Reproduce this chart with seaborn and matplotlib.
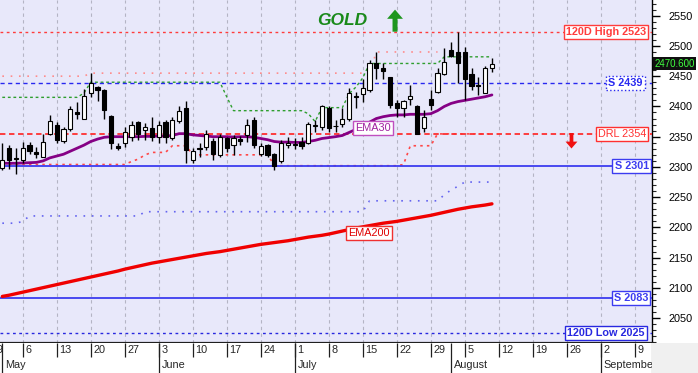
import numpy as np
import pandas as pd
import matplotlib
matplotlib.use("Agg")
import matplotlib.pyplot as plt
import matplotlib.transforms as mtrans
from matplotlib.patches import Rectangle
from matplotlib.ticker import MultipleLocator
import seaborn as sns

# daily candles, first one is Wed 1 May 2024, last Fri 9 Aug 2024
first_day = "2024-05-01"
opens = [2299, 2331, 2314, 2312, 2336, 2325, 2317, 2354, 2370, 2343,
         2363, 2391, 2380, 2422, 2432, 2427, 2385, 2335, 2339, 2349,
         2374, 2361, 2365, 2349, 2374, 2347, 2376, 2397, 2311, 2332,
         2333, 2343, 2320, 2347, 2336, 2346, 2353, 2377, 2322, 2336,
         2321, 2309, 2336, 2338, 2342, 2340, 2367, 2366, 2398, 2367,
         2371, 2379, 2418, 2420, 2427, 2472, 2464, 2449, 2405, 2398,
         2412, 2401, 2364, 2412, 2424, 2453, 2494, 2490, 2490, 2453,
         2435, 2423, 2464]
highs = [2339, 2336, 2331, 2342, 2341, 2333, 2355, 2386, 2375, 2366,
         2400, 2408, 2428, 2455, 2434, 2428, 2386, 2339, 2366, 2376,
         2376, 2372, 2382, 2376, 2377, 2382, 2401, 2409, 2332, 2339,
         2361, 2347, 2355, 2350, 2353, 2351, 2380, 2383, 2339, 2338,
         2323, 2344, 2350, 2347, 2350, 2375, 2377, 2402, 2401, 2377,
         2397, 2431, 2424, 2446, 2477, 2490, 2471, 2449, 2411, 2411,
         2435, 2402, 2394, 2427, 2463, 2496, 2507, 2523, 2499, 2463,
         2449, 2466, 2480]
lows = [2295, 2297, 2288, 2306, 2322, 2314, 2316, 2353, 2339, 2340,
        2360, 2379, 2379, 2416, 2409, 2379, 2330, 2328, 2333, 2343,
        2344, 2344, 2343, 2339, 2339, 2345, 2373, 2307, 2307, 2317,
        2328, 2311, 2317, 2325, 2320, 2336, 2342, 2331, 2318, 2317,
        2295, 2307, 2331, 2329, 2329, 2338, 2358, 2361, 2358, 2358,
        2366, 2376, 2398, 2408, 2424, 2446, 2446, 2398, 2383, 2383,
        2402, 2354, 2358, 2394, 2422, 2452, 2482, 2438, 2411, 2427,
        2419, 2422, 2457]
closes = [2311, 2311, 2313, 2332, 2326, 2322, 2341, 2376, 2344, 2362,
          2396, 2387, 2418, 2438, 2427, 2394, 2339, 2331, 2357, 2369,
          2354, 2366, 2349, 2369, 2349, 2377, 2392, 2328, 2326, 2329,
          2355, 2321, 2349, 2331, 2347, 2343, 2370, 2336, 2334, 2320,
          2301, 2339, 2340, 2336, 2334, 2371, 2369, 2400, 2365, 2368,
          2380, 2423, 2416, 2430, 2471, 2463, 2458, 2402, 2397, 2409,
          2417, 2355, 2383, 2402, 2455, 2474, 2483, 2471, 2446, 2434,
          2433, 2464, 2470.6]

ema30 = [2306, 2306, 2306, 2306.5, 2307, 2307.5, 2310, 2315, 2318, 2321,
         2326, 2331, 2336, 2342, 2346, 2349, 2350, 2350, 2350, 2350,
         2350, 2350.5, 2350.5, 2351, 2351, 2352, 2355, 2355, 2353, 2352,
         2351, 2350, 2350, 2350, 2349.5, 2350, 2350, 2349, 2347, 2345,
         2342, 2341, 2341, 2340.5, 2340.5, 2342, 2344, 2347, 2348.5, 2350,
         2352, 2357, 2362, 2367, 2374, 2380, 2383, 2385, 2386, 2386,
         2387, 2387, 2387, 2388, 2393, 2400, 2405, 2408, 2410, 2412,
         2414, 2416, 2419]
ema200 = [2086, 2088, 2090.5, 2093, 2095.5, 2098, 2100.5, 2103, 2105.5, 2108,
          2110.5, 2113, 2115.5, 2118, 2120.5, 2123, 2125.5, 2128, 2131, 2133.5,
          2136, 2138.5, 2141, 2143, 2145, 2147, 2149, 2151, 2153, 2155,
          2157, 2158.5, 2160, 2162, 2164, 2166, 2168, 2170, 2172, 2173.5,
          2175, 2176.5, 2178, 2180, 2182, 2184, 2185.5, 2187, 2189, 2191.5,
          2194, 2196.5, 2199, 2201, 2203, 2205, 2207, 2208.5, 2210, 2212,
          2214, 2216, 2218, 2220, 2222.5, 2225, 2227.5, 2230, 2232, 2234,
          2235.5, 2237, 2239]

# stepped trailing levels
green_stop = [2415] * 12 + [2422] + [2440] * 20 + [2416] + [2393] * 11 + \
             [2388, 2375] + [2398] * 4 + [2421, 2432, 2447] + [2471] * 11 + [2482] * 8
pink_high = [2450] * 13 + [2455] * 42 + [2490] * 10
red_stop = [2304] * 19 + [2309, 2313, 2320] + [2324] * 3 + [2335] * 3 + [2320] * 12 + \
           [2303] + [2302] * 18 + [2304] + [2335] * 4 + [2354.6] * 9
blue_low = [2207] * 3 + [2210] + [2219] * 17 + [2226] * 33 + [2244] * 11 + \
           [2254, 2262, 2268] + [2275] * 5

level_names = ["120D High 2523", "S 2439", "DRL 2354", "S 2301", "S 2083", "120D Low 2025"]
level_values = [2523, 2439, 2354, 2301, 2083, 2025]
last_price = 2470.6
month_names = ["May", "June", "July", "August", "September"]

sns.set_style("white")
plt.rcParams['font.family'] = ['Liberation Sans', 'DejaVu Sans']

calendar = pd.bdate_range("2024-04-29", "2024-09-13")
days = pd.bdate_range(first_day, periods=len(closes))
x = calendar.get_indexer(days)

o = np.array(opens, float)
h = np.array(highs, float)
l = np.array(lows, float)
c = np.array(closes, float)

fig = plt.figure(figsize=(6.98, 3.73), dpi=100)
W, H = 698, 373
ax = fig.add_axes([0, 1 - 342.7 / H, 652 / W, 342.7 / H])
axd = fig.add_axes([0, 0, 652 / W, 30.3 / H], sharex=ax)
ax.set_facecolor('#E8E8FA')
ax.set_xlim(1.66, 97.54)
ax.set_ylim(2009.5, 2575.9)

# weekly grid
mondays = [i for i, d in enumerate(calendar) if d.weekday() == 0]
for m in mondays:
    ax.axvline(m, color='#B4B4C4', lw=0.8, ls=(0, (3, 3)), zorder=1)

# horizontal levels
lvl_style = {
    "120D High 2523": dict(color='#FF3C3C', ls=(0, (2, 2.5)), lw=1.0, bold=True, xr=0.991, box_ls='-'),
    "S 2439": dict(color='#2828F0', ls=(0, (3, 2.5)), lw=1.0, bold=True, xr=0.986, box_ls=':'),
    "DRL 2354": dict(color='#FF3030', ls=(0, (3, 2)), lw=1.3, bold=False, xr=0.991, box_ls='-'),
    "S 2301": dict(color='#3C3CF0', ls='-', lw=1.3, bold=True, xr=0.995, box_ls='-'),
    "S 2083": dict(color='#3C3CF0', ls='-', lw=1.3, bold=True, xr=0.994, box_ls='-'),
    "120D Low 2025": dict(color='#2828E0', ls=(0, (2, 2.5)), lw=1.0, bold=True, xr=0.989, box_ls='-'),
}
trans = mtrans.blended_transform_factory(ax.transAxes, ax.transData)
for name, val in zip(level_names, level_values):
    st = lvl_style[name]
    ax.axhline(val, color=st['color'], ls=st['ls'], lw=st['lw'], zorder=3)
    ax.text(st['xr'], val, name, transform=trans, ha='right', va='center',
            fontsize=7.8, color=st['color'],
            fontweight='bold' if st['bold'] else 'normal', zorder=9,
            bbox=dict(boxstyle='square,pad=0.2', fc='white', ec=st['color'],
                      lw=1.0, ls=st['box_ls']))

# stepped indicator lines
ax.plot(x[:len(pink_high)], pink_high, color='#FF8C8C', lw=1.2, ls=(0, (1, 4)), zorder=2)
ax.plot(x, green_stop, color='#2E9E2E', lw=1.0, ls=(0, (2, 2)), zorder=2)
ax.plot(x, red_stop, color='#FF4848', lw=1.2, ls=(0, (1.5, 2.5)), zorder=2)
ax.plot(x, blue_low, color='#6464F0', lw=1.2, ls=(0, (1, 4)), zorder=2)

# moving averages
sns.lineplot(x=x, y=ema200, ax=ax, color='#F00000', lw=2.4, zorder=4)
sns.lineplot(x=x, y=ema30, ax=ax, color='#850085', lw=2.0, zorder=4)
ax.text(56.5, 2364.3, "EMA30", fontsize=7.8, color='#A020A0', ha='center', va='center', zorder=9,
        bbox=dict(boxstyle='square,pad=0.2', fc='white', ec='#C050C0', lw=1.0))
ax.text(55.95, 2190.8, "EMA200", fontsize=7.8, color='#E00000', ha='center', va='center', zorder=9,
        bbox=dict(boxstyle='square,pad=0.2', fc='white', ec='#F03030', lw=1.0))

# candles
up = c >= o
bottoms = np.minimum(o, c)
heights = np.maximum(np.abs(c - o), 0.6)
ax.vlines(x, l, h, color='black', lw=1.0, zorder=5)
ax.bar(x, heights, bottom=bottoms, width=0.62, color=np.where(up, 'white', 'black'),
       edgecolor='black', linewidth=0.8, zorder=6)

# title and arrows
ax.text(51.96, 2541.5, "GOLD", fontsize=12.5, fontweight='bold', fontstyle='italic',
        color='#1A8A1A', ha='center', va='center', zorder=9)
ax.annotate('', xy=(59.75, 2560), xytext=(59.75, 2523.5),
            arrowprops=dict(arrowstyle='simple,head_length=0.55,head_width=0.95,tail_width=0.3',
                            fc='#1E961E', ec='none', mutation_scale=12, shrinkA=0, shrinkB=0),
            zorder=9)
ax.annotate('', xy=(85.7, 2330.5), xytext=(85.7, 2356),
            arrowprops=dict(arrowstyle='simple,head_length=0.55,head_width=0.95,tail_width=0.3',
                            fc='#F01010', ec='none', mutation_scale=9, shrinkA=0, shrinkB=0),
            zorder=9)

# right price axis
for s in ['left', 'top']:
    ax.spines[s].set_visible(False)
ax.spines['right'].set_color('black')
ax.spines['right'].set_linewidth(1.0)
ax.spines['bottom'].set_color('#202020')
ax.spines['bottom'].set_linewidth(1.6)
ax.yaxis.tick_right()
ax.set_yticks(np.arange(2050, 2551, 50))
ax.yaxis.set_minor_locator(MultipleLocator(10))
ax.tick_params(axis='y', which='major', right=True, length=6, width=1, pad=6,
               labelsize=7.8, colors='black')
ax.tick_params(axis='y', which='minor', right=True, length=3, width=0.8)
ax.tick_params(axis='x', bottom=False, labelbottom=False)
ax.text(1.004, last_price, f"{last_price:.3f}", transform=trans, ha='left', va='center',
        fontsize=7, color='#40FF40', zorder=10,
        bbox=dict(boxstyle='square,pad=0.15', fc='#101010', ec='none'), clip_on=False)

# date strip
axd.set_facecolor('white')
axd.set_ylim(0, 1)
for s in ['left', 'top', 'bottom']:
    axd.spines[s].set_visible(False)
axd.spines['right'].set_color('black')
axd.tick_params(left=False, bottom=False, labelleft=False, labelbottom=False)
for m in mondays:
    axd.vlines(m, 0.53, 1, color='#202020', lw=0.9)
    axd.text(m + 0.4, 0.76, str(calendar[m].day), fontsize=7.8, ha='left', va='center',
             clip_on=True)
month_starts = [calendar.get_indexer([calendar[calendar.month == mm][0]])[0] for mm in [5, 6, 7, 8, 9]]
for pos, name in zip(month_starts, month_names):
    axd.vlines(pos, 0, 1, color='#202020', lw=0.9)
    axd.text(pos + 0.4, 0.26, name, fontsize=7.8, ha='left', va='center', clip_on=True)

fig.patches.append(Rectangle((652 / W, 0), 46 / W, 30.3 / H, transform=fig.transFigure,
                             fc='#F0F0F0', ec='none', zorder=0))

fig.savefig("out.png", dpi=100)
